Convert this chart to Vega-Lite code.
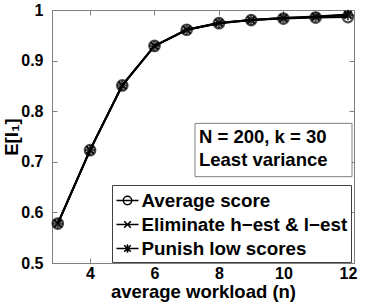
{
  "$schema": "https://vega.github.io/schema/vega-lite/v6.json",
  "width": 302,
  "height": 253,
  "autosize": "none",
  "padding": {"left": 52, "top": 10, "right": 24, "bottom": 43},
  "background": "white",
  "config": {
    "font": "Liberation Sans",
    "view": {"stroke": "#808080", "strokeWidth": 1},
    "axis": {
      "grid": false,
      "domainColor": "#808080",
      "tickColor": "#808080",
      "tickSize": -5,
      "labelFont": "Liberation Sans",
      "labelFontSize": 16,
      "labelFontWeight": "bold",
      "labelColor": "black",
      "titleFont": "Liberation Sans",
      "titleFontSize": 18.5,
      "titleFontWeight": "bold",
      "titleColor": "black"
    }
  },
  "datasets": {
    "series": [
      {"n": 3, "v": 0.578, "s": "Average score"},
      {"n": 4, "v": 0.723, "s": "Average score"},
      {"n": 5, "v": 0.851, "s": "Average score"},
      {"n": 6, "v": 0.929, "s": "Average score"},
      {"n": 7, "v": 0.961, "s": "Average score"},
      {"n": 8, "v": 0.974, "s": "Average score"},
      {"n": 9, "v": 0.980, "s": "Average score"},
      {"n": 10, "v": 0.983, "s": "Average score"},
      {"n": 11, "v": 0.985, "s": "Average score"},
      {"n": 12, "v": 0.986, "s": "Average score"},
      {"n": 3, "v": 0.578, "s": "Eliminate h\u2212est & l\u2212est"},
      {"n": 4, "v": 0.723, "s": "Eliminate h\u2212est & l\u2212est"},
      {"n": 5, "v": 0.851, "s": "Eliminate h\u2212est & l\u2212est"},
      {"n": 6, "v": 0.929, "s": "Eliminate h\u2212est & l\u2212est"},
      {"n": 7, "v": 0.961, "s": "Eliminate h\u2212est & l\u2212est"},
      {"n": 8, "v": 0.975, "s": "Eliminate h\u2212est & l\u2212est"},
      {"n": 9, "v": 0.980, "s": "Eliminate h\u2212est & l\u2212est"},
      {"n": 10, "v": 0.984, "s": "Eliminate h\u2212est & l\u2212est"},
      {"n": 11, "v": 0.987, "s": "Eliminate h\u2212est & l\u2212est"},
      {"n": 12, "v": 0.991, "s": "Eliminate h\u2212est & l\u2212est"},
      {"n": 3, "v": 0.578, "s": "Punish low scores"},
      {"n": 4, "v": 0.723, "s": "Punish low scores"},
      {"n": 5, "v": 0.851, "s": "Punish low scores"},
      {"n": 6, "v": 0.929, "s": "Punish low scores"},
      {"n": 7, "v": 0.961, "s": "Punish low scores"},
      {"n": 8, "v": 0.974, "s": "Punish low scores"},
      {"n": 9, "v": 0.980, "s": "Punish low scores"},
      {"n": 10, "v": 0.984, "s": "Punish low scores"},
      {"n": 11, "v": 0.986, "s": "Punish low scores"},
      {"n": 12, "v": 0.990, "s": "Punish low scores"}
    ],
    "notebox": [{"x1": 7.257, "x2": 12.128, "y1": 0.6706, "y2": 0.776}],
    "notetext": [
      {"x": 7.38, "y": 0.7496, "t": "N = 200, k = 30"},
      {"x": 7.38, "y": 0.7036, "t": "Least variance"}
    ]
  },
  "resolve": {
    "axis": {"x": "independent", "y": "independent"},
    "scale": {"shape": "independent"}
  },
  "layer": [
    {
      "data": {"name": "notebox"},
      "mark": {"type": "rect", "fill": "white", "stroke": "#808080", "strokeWidth": 1},
      "encoding": {
        "x": {"field": "x1", "type": "quantitative", "scale": {"domain": [2.82, 12.19], "nice": false, "zero": false},
              "axis": {"orient": "top", "labels": false, "title": null, "domain": false, "values": [4, 6, 8, 10, 12]}},
        "x2": {"field": "x2"},
        "y": {"field": "y1", "type": "quantitative", "scale": {"domain": [0.5, 1], "nice": false, "zero": false},
              "axis": {"orient": "right", "labels": false, "title": null, "domain": false, "values": [0.5, 0.6, 0.7, 0.8, 0.9, 1]}},
        "y2": {"field": "y2"}
      }
    },
    {
      "data": {"name": "notetext"},
      "mark": {"type": "text", "font": "Liberation Sans", "fontSize": 18.5, "fontWeight": "bold", "color": "black", "align": "left", "baseline": "middle"},
      "encoding": {
        "x": {"field": "x", "type": "quantitative", "axis": null},
        "y": {"field": "y", "type": "quantitative", "axis": null},
        "text": {"field": "t"}
      }
    },
    {
      "data": {"name": "series"},
      "mark": {"type": "line", "color": "black", "strokeWidth": 2},
      "encoding": {
        "x": {"field": "n", "type": "quantitative",
              "axis": {"orient": "bottom", "values": [4, 6, 8, 10, 12], "title": "average workload (n)", "labelPadding": 7, "titlePadding": 1}},
        "y": {"field": "v", "type": "quantitative",
              "axis": {"orient": "left", "values": [0.5, 0.6, 0.7, 0.8, 0.9, 1], "title": "E[I\u2081]", "labelPadding": 14, "titlePadding": -1,
                       "labelExpr": "datum.value == 1 ? '1' : format(datum.value, '.1f')"}},
        "detail": {"field": "s"}
      }
    },
    {
      "data": {"name": "series"},
      "mark": {"type": "point", "color": "black", "strokeWidth": 2.2, "filled": false, "size": 110},
      "encoding": {
        "x": {"field": "n", "type": "quantitative", "axis": null},
        "y": {"field": "v", "type": "quantitative", "axis": null},
        "shape": {"field": "s", "type": "nominal", "legend": null,
                  "scale": {"domain": ["Average score", "Eliminate h\u2212est & l\u2212est", "Punish low scores"],
                            "range": ["M1,0A1,1 0 1,1 -1,0A1,1 0 1,1 1,0", "M-0.7,-0.7L0.7,0.7M-0.7,0.7L0.7,-0.7", "M-1,0L1,0M0,-1L0,1M-0.7,-0.7L0.7,0.7M-0.7,0.7L0.7,-0.7"]}}
      }
    },
    {
      "data": {"name": "series"},
      "mark": {"type": "point", "color": "black", "opacity": 0, "filled": false, "size": 484},
      "encoding": {
        "x": {"field": "n", "type": "quantitative", "axis": null},
        "y": {"field": "v", "type": "quantitative", "axis": null},
        "shape": {"field": "s", "type": "nominal",
                  "scale": {"domain": ["Average score", "Eliminate h\u2212est & l\u2212est", "Punish low scores"],
                            "range": ["M-1,0L1,0M0.38,0A0.38,0.38 0 1,1 -0.38,0A0.38,0.38 0 1,1 0.38,0", "M-1,0L1,0M-0.3,-0.3L0.3,0.3M-0.3,0.3L0.3,-0.3", "M-1,0L1,0M0,-0.38L0,0.38M-0.3,-0.3L0.3,0.3M-0.3,0.3L0.3,-0.3"]},
                  "legend": {"orient": "none", "legendX": 60, "legendY": 175, "title": null,
                             "fillColor": "white", "strokeColor": "#404040", "padding": 3.5,
                             "labelFont": "Liberation Sans", "labelFontSize": 18.8, "labelFontWeight": "bold", "labelColor": "black",
                             "labelLimit": 400, "labelOffset": 2, "rowPadding": 2, "symbolSize": 484, "symbolOpacity": 1,
                             "symbolStrokeColor": "black", "symbolStrokeWidth": 1.5, "symbolFillColor": "transparent"}}
      }
    }
  ]
}
